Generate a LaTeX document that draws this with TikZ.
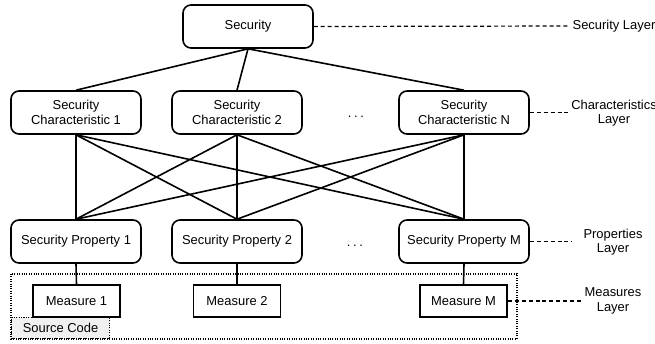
\documentclass[tikz,border=0pt]{standalone}
\usepackage{fontspec}
\setmainfont{Liberation Sans}
\usepackage{tikz}

\begin{document}
\begin{tikzpicture}[x=0.75pt,y=-0.75pt,
  txt/.style={font=\fontsize{9.7}{11}\selectfont},
  box/.style={txt,draw,line width=1.2pt,rounded corners=6pt,fill=white,
    minimum width=97.5pt,minimum height=32.25pt,align=center,inner sep=1pt},
  mbox/.style={txt,draw,line width=1.2pt,fill=white,
    minimum width=65.25pt,minimum height=24pt,inner sep=1pt},
  layer/.style={txt,align=center,inner sep=0pt},
  link/.style={line width=1.2pt},
  guide/.style={line width=0.9pt,dash pattern=on 3pt off 2.2pt}]

\useasboundingbox (0,0) rectangle (655,343);

\draw [densely dotted, line width=0.8pt](11,274) rectangle (517,339);
\node [txt,draw,densely dotted,line width=0.8pt,fill=gray!12,anchor=south west,
  minimum width=73.5pt,minimum height=15.75pt,inner sep=1pt] (code) at (11,339) {Source Code};

\node [box] (sec) at (248,26.5) {Security};

\node [box] (ch1) at (76,112.5) {Security\\Characteristic 1};
\node [box] (ch2) at (237,112.5) {Security\\Characteristic 2};
\node [box] (chN) at (464,112.5) {Security\\Characteristic N};
\node [txt] (dotsC) at (356,117) {.\hspace{2pt}.\hspace{2pt}.};

\node [box] (pr1) at (76,241.5) {Security Property 1};
\node [box] (pr2) at (237,241.5) {Security Property 2};
\node [box] (prM) at (464,241.5) {Security Property M};
\node [txt] (dotsP) at (355,246) {.\hspace{2pt}.\hspace{2pt}.};

\node [mbox] (ms1) at (76.5,301) {Measure 1};
\node [mbox] (ms2) at (237,301) {Measure 2};
\node [mbox] (msM) at (463.5,301) {Measure M};

\node [layer] (lsec) at (614,26) {Security Layer};
\node [layer] (lchr) at (614,113) {Characteristics\\Layer};
\node [layer] (lpro) at (613,242) {Properties\\Layer};
\node [layer] (lmea) at (613,301) {Measures\\Layer};

\coordinate (gsec) at (568,26);
\coordinate (gchr) at (571,112.5);
\coordinate (gpro) at (572,241.5);
\coordinate (gmea) at (582,301);

\draw [link](sec.south) -- (ch1.north);
\draw [link](sec.south) -- (ch2.north);
\draw [link](sec.south) -- (chN.north);

\foreach \c in {ch1,ch2,chN}{
  \foreach \p in {pr1,pr2,prM}{
    \draw [link](\c.south) -- (\p.north);
  }
}

\draw [link](pr1.south) -- (ms1.north);
\draw [link](pr2.south) -- (ms2.north);
\draw [link](prM.south) -- (msM.north);

\draw [guide](sec.east) -- (gsec);
\draw [guide](chN.east) -- (gchr);
\draw [guide](prM.east) -- (gpro);
\draw [guide](msM.east) -- (gmea);

\end{tikzpicture}
\end{document}
